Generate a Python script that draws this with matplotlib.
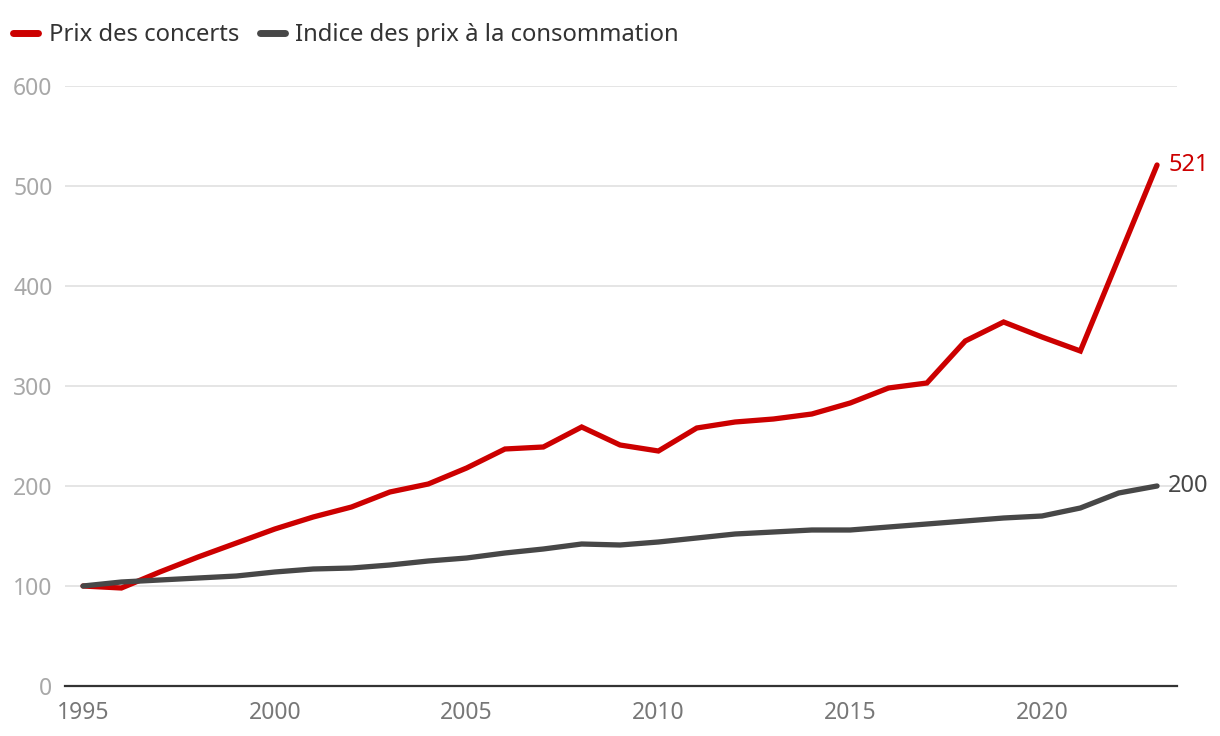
import numpy as np
import matplotlib.pyplot as plt

years = list(range(1995, 2024))
prix_concerts = [100, 98, 114, 129, 143, 157, 169, 179, 194, 202, 218, 237, 239, 259, 241, 235,
                 258, 264, 267, 272, 283, 298, 303, 345, 364, 349, 335, 428, 521]
ipc = [100, 104, 106, 108, 110, 114, 117, 118, 121, 125, 128, 133, 137, 142, 141, 144,
       148, 152, 154, 156, 156, 159, 162, 165, 168, 170, 178, 193, 200]
y_ticks = [0, 100, 200, 300, 400, 500, 600]
x_ticks = [1995, 2000, 2005, 2010, 2015, 2020]
labels = ['Prix des concerts', 'Indice des prix à la consommation']

RED = '#cc0000'
GREY = '#474747'

plt.rcParams['font.family'] = ['Noto Sans', 'DejaVu Sans']

fig = plt.figure(figsize=(12.2, 7.36), dpi=100)
ax = fig.add_axes([65 / 1220, 50 / 736, 1112 / 1220, 600 / 736])

ax.plot(years, prix_concerts, color=RED, lw=3.8, solid_capstyle='round',
        solid_joinstyle='miter', label=labels[0], clip_on=False, zorder=3)
ax.plot(years, ipc, color=GREY, lw=3.8, solid_capstyle='round',
        solid_joinstyle='miter', label=labels[1], clip_on=False, zorder=3)

# end labels
ax.annotate(str(prix_concerts[-1]), (years[-1], prix_concerts[-1]), xytext=(8, 0),
            textcoords='offset points', color=RED, fontsize=17, va='center', ha='left')
ax.annotate(str(ipc[-1]), (years[-1], ipc[-1]), xytext=(8, 0),
            textcoords='offset points', color=GREY, fontsize=17, va='center', ha='left')

ax.set_xlim(1994.53, 2023.52)
ax.set_ylim(0, 600)
ax.set_yticks(y_ticks)
ax.set_xticks(x_ticks)
ax.grid(axis='y', color='#e3e3e3', lw=1.3, zorder=0)
ax.tick_params(axis='y', length=0, pad=9, labelsize=16.5, labelcolor='#a8a8a8')
ax.tick_params(axis='x', length=0, pad=11, labelsize=16.5, labelcolor='#777777')
for s in ['top', 'right', 'left']:
    ax.spines[s].set_visible(False)
ax.spines['bottom'].set_color('#333333')
ax.spines['bottom'].set_linewidth(1.6)
ax.spines['bottom'].set_zorder(4)

leg = fig.legend(loc='center left', bbox_to_anchor=(13 / 1220, 1 - 35 / 736), ncol=2,
                 frameon=False, borderpad=0, borderaxespad=0,
                 fontsize=17.2, handlelength=1.05, handletextpad=0.45, columnspacing=0.85,
                 labelcolor='#333333')
for h in leg.get_lines():
    h.set_linewidth(5)

fig.savefig('out.png', dpi=100)
